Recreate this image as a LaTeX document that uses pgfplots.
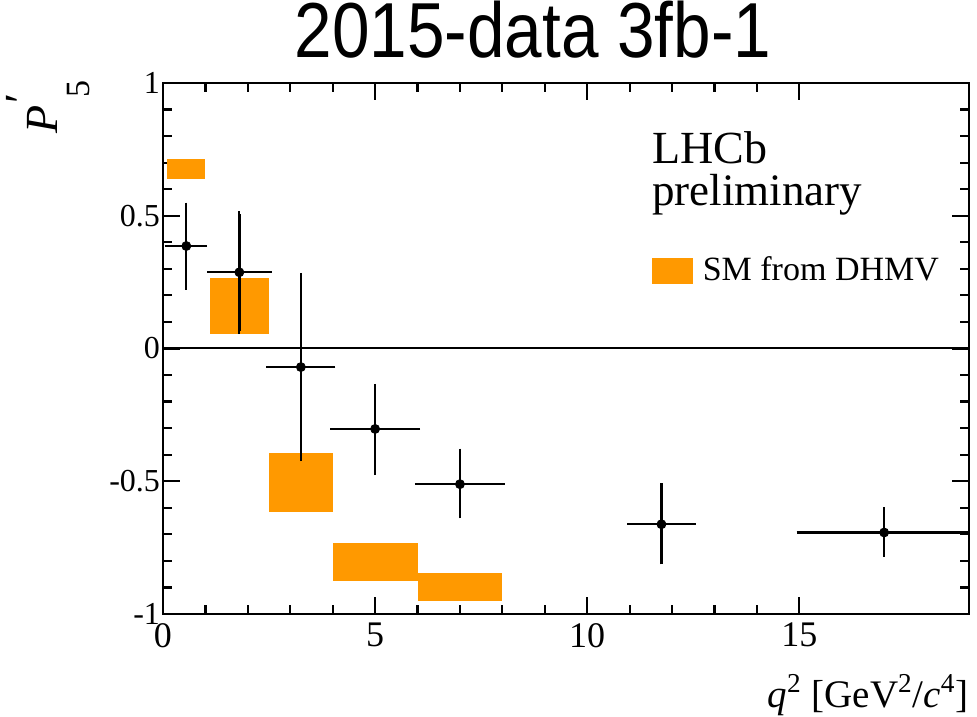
\documentclass[border=0pt]{standalone}
\usepackage{fontspec}
\setmainfont{Liberation Serif}
\newfontfamily\titlefont{Liberation Sans}
\usepackage{pgfplots}
\pgfplotsset{compat=1.18}
\definecolor{smorange}{RGB}{255,153,0}

\pgfplotstableread{
x     y       exm   exp   eym    eyp
0.55  0.386   0.45  0.43  0.155  0.154
1.80  0.287   0.70  0.70  0.222  0.221
3.25  -0.070  0.75  0.75  0.344  0.345
5.00  -0.303  1.00  1.00  0.164  0.160
7.00  -0.511  1.00  1.00  0.119  0.124
11.75 -0.662  0.75  0.75  0.141  0.145
17.00 -0.693  2.00  2.00  0.082  0.085
}\datatable

\begin{document}
\begin{tikzpicture}
\useasboundingbox (-81.5pt,-51pt) rectangle (407pt,307pt);
\begin{axis}[
  scale only axis, width=403pt, height=265.5pt,
  xmin=0, xmax=19, ymin=-1, ymax=1,
  xtick={0,5,10,15}, xticklabels={0,5,10,15},
  ytick={-1,-0.5,0,0.5,1}, yticklabels={-1,-0.5,0,0.5,1},
  minor x tick num=4, minor y tick num=4,
  tick align=inside, tick pos=both,
  major tick length=8.5pt, minor tick length=4.5pt,
  axis line style={line width=1.3pt},
  every tick/.style={black, line width=1.1pt},
  xticklabel style={font=\fontsize{18}{18}\selectfont, yshift=-1pt},
  yticklabel style={font=\fontsize{16}{16}\selectfont, xshift=2pt},
  title={2015-data 3fb-1},
  title style={at={(axis description cs:0.459,1.0262)}, anchor=base, inner sep=0pt,
    text height=28pt, text depth=0pt,
    font=\titlefont\fontsize{39}{39}\selectfont, xscale=0.865},
  xlabel={\textit{q}\textsuperscript{2} [GeV\textsuperscript{2}/\textit{c}\textsuperscript{4}]},
  xlabel style={at={(axis description cs:1,-0.177)}, anchor=base east, inner sep=0pt,
    font=\fontsize{19.5}{19.5}\selectfont},
  ylabel={\textit{P}\kern1pt\raisebox{0.45em}{′}\kern-2pt\raisebox{-16pt}{\fontsize{17}{17}\selectfont 5}},
  ylabel style={at={(axis description cs:-0.0906,1.0056)}, anchor=south east, inner sep=0pt,
    font=\fontsize{23}{23}\selectfont},
  legend style={at={(axis description cs:0.6067,0.6469)}, anchor=west, draw=none, fill=none,
    inner sep=0pt, outer sep=0pt, font=\fontsize{17}{17}\selectfont,
    nodes={inner sep=0pt}},
  legend cell align=left,
]
\addlegendimage{legend image code/.code={\fill[smorange] (0pt,-6.25pt) rectangle (20pt,6.25pt); \path (25pt,0pt);}}
\addlegendentry{SM from DHMV}

\addplot[fill=smorange, draw=none, forget plot] coordinates {(0.1,0.639) (0.98,0.639) (0.98,0.712) (0.1,0.712)} -- cycle;
\addplot[fill=smorange, draw=none, forget plot] coordinates {(1.1,0.055) (2.5,0.055) (2.5,0.267) (1.1,0.267)} -- cycle;
\addplot[fill=smorange, draw=none, forget plot] coordinates {(2.5,-0.615) (4.0,-0.615) (4.0,-0.395) (2.5,-0.395)} -- cycle;
\addplot[fill=smorange, draw=none, forget plot] coordinates {(4.0,-0.875) (6.0,-0.875) (6.0,-0.731) (4.0,-0.731)} -- cycle;
\addplot[fill=smorange, draw=none, forget plot] coordinates {(6.0,-0.951) (8.0,-0.951) (8.0,-0.844) (6.0,-0.844)} -- cycle;

\addplot[black, line width=1.0pt, forget plot] coordinates {(0,0) (19,0)};

\addplot[only marks, black, mark=*, mark size=2.25pt, forget plot,
  error bars/.cd, x dir=both, x explicit, y dir=both, y explicit,
  error bar style={line width=1.15pt, black},
  error mark options={mark size=1.3pt, line width=1.1pt, black}]
  table[x=x, y=y, x error plus=exp, x error minus=exm, y error plus=eyp, y error minus=eym] {\datatable};

\node[anchor=base west, inner sep=0pt, font=\fontsize{23}{23}\selectfont] at (axis description cs:0.6067,0.8493) {LHCb};
\node[anchor=base west, inner sep=0pt, font=\fontsize{22.5}{22.5}\selectfont] at (axis description cs:0.6067,0.7684) {preliminary};
\end{axis}
\end{tikzpicture}
\end{document}
